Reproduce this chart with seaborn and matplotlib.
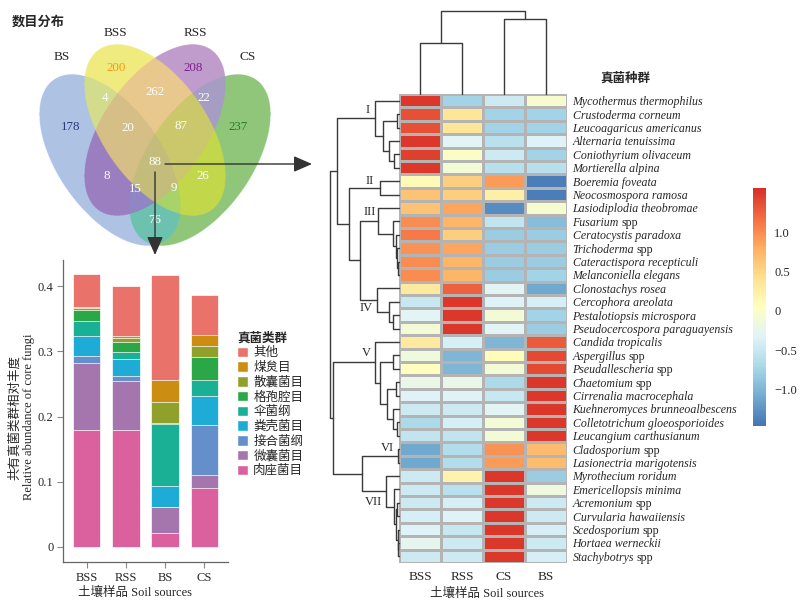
import numpy as np
import pandas as pd
import matplotlib
matplotlib.use("Agg")
import matplotlib.pyplot as plt
import seaborn as sns
from matplotlib.patches import Patch
from matplotlib.colors import ListedColormap

W, H = 800, 611

# ── Venn: counts per region (membership code BS,BSS,RSS,CS) ──────────────────
venn_names = ["BS", "BSS", "RSS", "CS"]
venn_codes = ["1000", "0100", "0010", "0001", "1100", "1010", "1001", "0110",
              "0101", "0011", "1110", "1101", "1011", "0111", "1111"]
venn_counts = [178, 200, 208, 237, 4, 8, 76, 262, 26, 22, 20, 9, 15, 87, 88]

# ── Stacked bars: relative abundance of shared fungi ──────────────────────────
samples = ["BSS", "RSS", "BS", "CS"]
taxa = ["其他", "煤炱目", "散囊菌目", "格孢腔目", "伞菌纲",
        "粪壳菌目", "接合菌纲", "微囊菌目", "肉座菌目"]
other        = [0.051, 0.077, 0.161, 0.062]
capnodiales  = [0.002, 0.002, 0.033, 0.017]
eurotiales   = [0.003, 0.007, 0.033, 0.017]
pleosporales = [0.017, 0.015, 0.001, 0.035]
agaricomyc   = [0.023, 0.011, 0.095, 0.024]
sordariales  = [0.030, 0.026, 0.033, 0.045]
zygomycetes  = [0.011, 0.008, 0.000, 0.076]
microascales = [0.102, 0.074, 0.039, 0.020]
hypocreales  = [0.180, 0.180, 0.022, 0.091]
taxa_colors = ["#E9736A", "#CB8E12", "#8FA12A", "#2AA746", "#1AB095",
               "#1EACD6", "#648FCB", "#A576AE", "#DA619E"]

# ── Heatmap: scaled abundance of 35 shared species ───────────────────────────
species = [
    "Mycothermus thermophilus", "Crustoderma corneum", "Leucoagaricus americanus",
    "Alternaria tenuissima", "Coniothyrium olivaceum", "Mortierella alpina",
    "Boeremia foveata", "Neocosmospora ramosa", "Lasiodiplodia theobromae",
    "Fusarium spp", "Ceratocystis paradoxa", "Trichoderma spp",
    "Cateractispora recepticuli", "Melanconiella elegans", "Clonostachys rosea",
    "Cercophora areolata", "Pestalotiopsis microspora",
    "Pseudocercospora paraguayensis", "Candida tropicalis", "Aspergillus spp",
    "Pseudallescheria spp", "Chaetomium spp", "Cirrenalia macrocephala",
    "Kuehneromyces brunneoalbescens", "Colletotrichum gloeosporioides",
    "Leucangium carthusianum", "Cladosporium spp", "Lasionectria marigotensis",
    "Myrothecium roridum", "Emericellopsis minima", "Acremonium spp",
    "Curvularia hawaiiensis", "Scedosporium spp", "Hortaea werneckii",
    "Stachybotrys spp"]
heat_cols = ["BSS", "RSS", "CS", "BS"]
heat_BSS = [1.5, 1.35, 1.35, 1.5, 1.45, 1.5, 0.12, 0.65, 0.65, 1.0, 1.1, 0.95,
            1.0, 1.0, 0.3, -0.5, -0.3, -0.1, 0.3, -0.15, 0.05, -0.2, -0.35,
            -0.45, -0.7, -0.55, -1.1, -1.1, -0.45, -0.45, -0.45, -0.4, -0.35,
            -0.25, -0.45]
heat_RSS = [-0.75, 0.35, 0.35, -0.3, 0.0, -0.1, 0.55, 0.55, 0.85, 0.75, 0.55,
            0.85, 0.75, 0.75, 1.25, 1.5, 1.5, 1.5, -0.4, -1.0, -1.0, -0.2,
            -0.35, -0.45, -0.4, -0.55, -0.65, -0.65, 0.2, -0.6, -0.4, -0.35,
            -0.5, -0.45, -0.45]
heat_CS = [-0.45, -0.75, -0.75, -0.6, -0.45, -0.6, 0.9, 0.25, -1.3, -0.55,
           -0.8, -0.8, -0.8, -0.8, -0.3, -0.35, -0.1, -0.3, -1.0, 0.1, -0.1,
           -0.7, -0.5, -0.3, -0.1, -0.1, 0.95, 0.9, 1.5, 1.5, 1.5, 1.5, 1.5,
           1.5, 1.5]
heat_BS = [-0.05, -0.75, -0.75, -0.35, -0.75, -0.6, -1.4, -1.4, -0.05, -0.95,
           -0.8, -0.8, -0.8, -0.75, -1.1, -0.4, -0.75, -0.8, 1.3, 1.4, 1.4,
           1.5, 1.5, 1.5, 1.5, 1.5, 0.7, 0.7, -0.8, -0.15, -0.45, -0.45, -0.4,
           -0.45, -0.4]

# trees: (merge height, upper child, lower child); ints are leaf indices
row_tree = (69.5,
            (61.7,
             (24, 0, (15.7, (1.7, 1, 2), (9.7, 3, (5, 4, 5)))),
             (49.7,
              (19, 6, 7),
              (39,
               (20.7, 8, (6.3, 9, (3.5, 10, (2, 11, (1, 12, 13))))),
               (21.7, 14, (9.7, 15, (5.7, 16, 17)))))),
            (66.3,
             (24, 18, (19, (6.3, 19, 20),
                       (12.3, (3, 21, 22), (5.7, 23, (2, 24, 25))))),
             (36.7,
              (0.8, 26, 27),
              (13.3, 28, (5, 29, (3.5, (2, 30, 31), (1.5, 32, (0.7, 33, 34))))))))
col_tree = (83.3, (50.7, 0, 1), (74.7, 2, 3))
cluster_names = ["I", "II", "III", "IV", "V", "VI", "VII"]
cluster_pos = [(31.3, 1.2), (29.7, 6.5), (29.7, 8.8), (33, 16.0),
               (33, 19.35), (11.7, 26.45), (25.7, 30.45)]

# ── Styling ───────────────────────────────────────────────────────────────────
sns.set_style("white")
plt.rcParams["font.family"] = ["Liberation Serif", "Noto Sans CJK SC"]
plt.rcParams["axes.unicode_minus"] = True
LINE = "#3a3a3a"
SP_SIZE = 8.6

fig = plt.figure(figsize=(W / 100, H / 100), dpi=100)


def px_axes(x0, y0, x1, y1):
    return fig.add_axes([x0 / W, 1 - y1 / H, (x1 - x0) / W, (y1 - y0) / H])


def ftext(x, y, s, **kw):
    fig.text(x / W, 1 - y / H, s, **kw)


# ── Venn diagram ──────────────────────────────────────────────────────────────
ax_v = px_axes(0, 0, 320, 260)
ellipses = [(110, 160, 98, 52, 55), (155, 130, 98, 52, 55),
            (155, 130, 98, 52, -55), (200, 160, 98, 52, -55)]
region_colors = ["#AEC2E5", "#F0EB7E", "#BF9CCB", "#8FC77A", "#D2DC8C",
                 "#9B7FBF", "#6DC3AF", "#E8C98C", "#C3D84B", "#A59EC3",
                 "#D6BF86", "#A8D26A", "#8F86C4", "#CBC86C", "#C4BD7A"]
label_xy = [(71, 127), (116, 68), (193, 68), (238, 127), (105, 98), (107, 176),
            (155, 220), (155, 92), (203, 176), (204, 98), (128, 128),
            (174, 188), (135, 189), (181, 126), (155, 162)]
single_colors = ["#2B3A7A", "#F39C12", "#7B1F8C", "#2C7A2E"]

ss = 3
gx, gy = np.meshgrid((np.arange(320 * ss) + 0.5) / ss, (np.arange(260 * ss) + 0.5) / ss)
code = np.zeros(gx.shape, dtype=int)
for k, (cx, cy, a, b, ang) in enumerate(ellipses):
    t = np.deg2rad(ang)
    u = (gx - cx) * np.cos(t) + (gy - cy) * np.sin(t)
    v = -(gx - cx) * np.sin(t) + (gy - cy) * np.cos(t)
    code += (((u / a) ** 2 + (v / b) ** 2) <= 1).astype(int) << (3 - k)
lut = np.ones((16, 3))
for c, col in zip(venn_codes, region_colors):
    lut[int(c, 2)] = matplotlib.colors.to_rgb(col)
ax_v.imshow(lut[code], extent=(0, 320, 260, 0), interpolation="antialiased")
for i, (n, (x, y)) in enumerate(zip(venn_counts, label_xy)):
    col = single_colors[i] if i < 4 else "white"
    ax_v.text(x, y, str(n), ha="center", va="center", fontsize=9.3, color=col)
for name, (x, y) in zip(venn_names, [(62, 57), (115, 33), (195, 33), (248, 57)]):
    ax_v.text(x, y, name, ha="center", va="center", fontsize=9.5)
arrow = dict(arrowstyle="-|>,head_length=0.8,head_width=0.35", color="#333333",
             lw=1.0, mutation_scale=14, shrinkA=0, shrinkB=0)
ax_v.annotate("", xy=(312, 164), xytext=(165, 164), arrowprops=arrow, annotation_clip=False)
ax_v.annotate("", xy=(155, 255), xytext=(155, 172), arrowprops=arrow, annotation_clip=False)
ax_v.set_xlim(0, 320)
ax_v.set_ylim(260, 0)
ax_v.axis("off")
ftext(12, 22, "数目分布", fontsize=9.5, fontweight="bold", va="center")

# ── Stacked bar chart ─────────────────────────────────────────────────────────
abund = pd.DataFrame([other, capnodiales, eurotiales, pleosporales, agaricomyc,
                      sordariales, zygomycetes, microascales, hypocreales],
                     index=taxa, columns=samples)
cum = abund.iloc[::-1].cumsum().iloc[::-1]
long = cum.reset_index(names="taxon").melt(id_vars="taxon", var_name="sample", value_name="cum")

ax_b = px_axes(63, 260, 228, 562)
sns.barplot(data=long, x="sample", y="cum", hue="taxon", hue_order=taxa,
            order=samples, palette=dict(zip(taxa, taxa_colors)), dodge=False,
            width=0.7, saturation=1, edgecolor="white", linewidth=0.5,
            errorbar=None, legend=False, ax=ax_b)
ax_b.set_xlim(-0.6, 3.6)
ax_b.set_ylim(-0.023, 0.44)
ax_b.set_yticks([0, 0.1, 0.2, 0.3, 0.4])
ax_b.set_yticklabels(["0", "0.1", "0.2", "0.3", "0.4"])
ax_b.set_xlabel("")
ax_b.set_ylabel("")
for side in ["top", "right"]:
    ax_b.spines[side].set_visible(False)
for side in ["left", "bottom"]:
    ax_b.spines[side].set_color("#666666")
    ax_b.spines[side].set_linewidth(0.9)
ax_b.tick_params(direction="out", length=4, width=0.8, color="#888888",
                 labelsize=9, pad=3, left=True, bottom=True)
ftext(22, 417, "共有真菌类群相对丰度\nRelative abundance of core fungi",
      rotation=90, ha="center", va="center", fontsize=9, linespacing=1.2)
ftext(135, 593, "土壤样品 Soil sources", ha="center", va="center", fontsize=9)
handles = [Patch(facecolor=c, edgecolor="white", label=t) for t, c in zip(taxa, taxa_colors)]
fig.legend(handles=handles, title="真菌类群", loc="upper left",
           bbox_to_anchor=(237 / W, 1 - 332 / H), frameon=False, fontsize=9,
           title_fontproperties={"size": 9, "weight": "bold"},
           handlelength=0.9, handleheight=0.9,
           handletextpad=0.4, labelspacing=0.18, borderpad=0, borderaxespad=0,
           alignment="left")

# ── Clustered heatmap ─────────────────────────────────────────────────────────
heat = pd.DataFrame({"BSS": heat_BSS, "RSS": heat_RSS, "CS": heat_CS, "BS": heat_BS},
                    index=species)[heat_cols]
heat_cmap = ListedColormap(plt.get_cmap("RdYlBu_r")(np.linspace(0.1, 0.9, 256)))
# italic names; a trailing "spp" is set upright afterwards
italic_names = [s[:-4] if s.endswith(" spp") else s for s in species]
ax_h = px_axes(399, 94, 567, 563)
cax = px_axes(753, 188, 766, 426)
sns.heatmap(heat, cmap=heat_cmap, vmin=-1.46, vmax=1.56, linewidths=0.8,
            linecolor="#b4b4b4", cbar_ax=cax, ax=ax_h,
            xticklabels=heat_cols, yticklabels=italic_names,
            cbar_kws={"ticks": [1.0, 0.5, 0, -0.5, -1.0]})
ax_h.yaxis.tick_right()
ax_h.set_yticklabels(italic_names, rotation=0, fontsize=SP_SIZE, fontstyle="italic")
ax_h.set_xticklabels(heat_cols, rotation=0, fontsize=9.5)
ax_h.tick_params(axis="y", length=0, pad=4)
ax_h.tick_params(axis="x", length=0, pad=6)
ax_h.set_xlabel("")
ax_h.set_ylabel("")
cax.set_yticklabels(["1.0", "0.5", "0", "\u22120.5", "\u22121.0"], fontsize=9)
cax.tick_params(length=0, pad=6)
for sp in cax.spines.values():
    sp.set_visible(False)
ftext(487, 594, "土壤样品 Soil sources", ha="center", va="center", fontsize=9)
ftext(600, 79, "真菌种群", ha="left", va="center", fontsize=9, fontweight="bold")

fig.canvas.draw()
renderer = fig.canvas.get_renderer()
for tl, name in zip(ax_h.get_yticklabels(), species):
    if name.endswith(" spp"):
        bb = tl.get_window_extent(renderer)
        fig.text((bb.x1 + 2.5) / fig.bbox.width, (bb.y0 + bb.y1) / 2 / fig.bbox.height,
                 "spp", fontsize=SP_SIZE, va="center", ha="left")


def draw_tree(ax, node, vertical):
    if isinstance(node, int):
        return node + 0.5, 0.0
    h, a, b = node
    pa, ha = draw_tree(ax, a, vertical)
    pb, hb = draw_tree(ax, b, vertical)
    pos, hts = [pa, pa, pb, pb], [ha, h, h, hb]
    if vertical:
        ax.plot(pos, hts, color=LINE, lw=1.0, clip_on=False)
    else:
        ax.plot(hts, pos, color=LINE, lw=1.0, clip_on=False)
    return (pa + pb) / 2, h


ax_r = px_axes(328, 94, 399, 563)
draw_tree(ax_r, row_tree, vertical=False)
ax_r.set_xlim(71, 0)
ax_r.set_ylim(len(species), 0)
ax_r.axis("off")
for name, (d, r) in zip(cluster_names, cluster_pos):
    ax_r.text(d, r, name, ha="center", va="center", fontsize=9)

ax_c = px_axes(399, 10, 567, 94)
draw_tree(ax_c, col_tree, vertical=True)
ax_c.set_xlim(0, len(heat_cols))
ax_c.set_ylim(0, 84)
ax_c.axis("off")

fig.savefig("out.png", dpi=100, facecolor="white")
